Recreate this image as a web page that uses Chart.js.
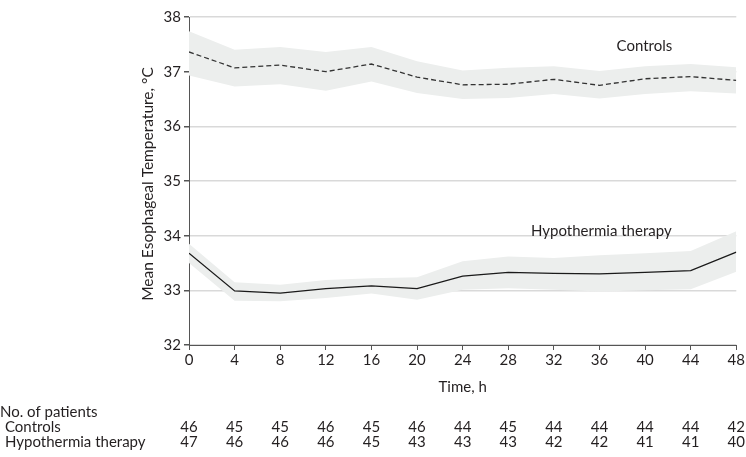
<!DOCTYPE html>
<html>
<head>
<meta charset="utf-8">
<script src="https://cdn.jsdelivr.net/npm/chart.js@4.4.1/dist/chart.umd.min.js"></script>
<style>
  html, body { margin: 0; padding: 0; background: #fff; }
  #wrap { width: 746px; height: 457px; position: relative; }
</style>
</head>
<body>
<div id="wrap"><canvas id="tempChart"></canvas></div>
<script>
// time points, h
var hours = [0, 4, 8, 12, 16, 20, 24, 28, 32, 36, 40, 44, 48];

// mean esophageal temperature, with 95% CI band
var controlsMean  = [37.36, 37.07, 37.12, 37.00, 37.14, 36.90, 36.76, 36.77, 36.86, 36.75, 36.87, 36.91, 36.84];
var controlsUpper = [37.74, 37.40, 37.45, 37.36, 37.45, 37.19, 37.02, 37.07, 37.10, 37.01, 37.10, 37.14, 37.08];
var controlsLower = [36.93, 36.73, 36.77, 36.65, 36.82, 36.61, 36.50, 36.52, 36.59, 36.51, 36.59, 36.64, 36.60];

var hypoMean  = [33.68, 32.99, 32.95, 33.03, 33.08, 33.03, 33.26, 33.33, 33.31, 33.30, 33.33, 33.36, 33.70];
var hypoUpper = [33.85, 33.15, 33.10, 33.19, 33.22, 33.24, 33.53, 33.62, 33.59, 33.64, 33.68, 33.72, 34.08];
var hypoLower = [33.50, 32.81, 32.80, 32.86, 32.94, 32.83, 33.01, 33.04, 33.01, 32.98, 33.00, 33.02, 33.34];

// number at risk
var controlsN = [46, 45, 45, 46, 45, 46, 44, 45, 44, 44, 44, 44, 42];
var hypoN     = [47, 46, 46, 46, 45, 43, 43, 43, 42, 42, 41, 41, 40];

var yTicks = [32, 33, 34, 35, 36, 37, 38];

var FONT = 'Lato, "Open Sans", sans-serif';
var FSIZE = 15;
var INK = '#231f20';

function pts(ys) {
  return hours.map(function (h, i) { return { x: h, y: ys[i] }; });
}

// extra texts: y title, x title, series labels, patient table
var annotations = {
  id: 'annotations',
  afterDraw: function (chart) {
    var ctx = chart.ctx;
    var xs = chart.scales.x;
    var ys = chart.scales.y;
    ctx.save();
    ctx.fillStyle = INK;
    ctx.font = FSIZE + 'px ' + FONT;
    ctx.textBaseline = 'middle';

    // axis titles
    ctx.save();
    ctx.translate(148, 184);
    ctx.rotate(-Math.PI / 2);
    ctx.textAlign = 'center';
    ctx.font = '15.5px ' + FONT;
    ctx.fillText('Mean Esophageal Temperature, °C', 0, 0);
    ctx.restore();

    ctx.textAlign = 'center';
    ctx.fillText('Time, h', (xs.left + xs.right) / 2, 387);

    // series labels
    ctx.textAlign = 'left';
    ctx.fillText('Controls', xs.getPixelForValue(37.5), ys.getPixelForValue(37.46));
    ctx.fillText('Hypothermia therapy', xs.getPixelForValue(30), ys.getPixelForValue(34.08));

    // patient table
    ctx.fillText('No. of patients', 0, 412);
    ctx.fillText('Controls', 5, 427);
    ctx.fillText('Hypothermia therapy', 5, 442);
    ctx.textAlign = 'center';
    hours.forEach(function (h, i) {
      var px = xs.getPixelForValue(h);
      ctx.fillText(String(controlsN[i]), px, 427);
      ctx.fillText(String(hypoN[i]), px, 442);
    });
    ctx.restore();
  }
};

var ctx = document.getElementById('tempChart').getContext('2d');
var tempChart = new Chart(ctx, {
  type: 'line',
  data: {
    datasets: [
      { data: pts(controlsUpper), order: 3, borderWidth: 0, pointRadius: 0, fill: '+1', backgroundColor: '#eceeed', tension: 0 },
      { data: pts(controlsLower), order: 3, borderWidth: 0, pointRadius: 0, fill: false, tension: 0 },
      { data: pts(hypoUpper), order: 3, borderWidth: 0, pointRadius: 0, fill: '+1', backgroundColor: '#eceeed', tension: 0 },
      { data: pts(hypoLower), order: 3, borderWidth: 0, pointRadius: 0, fill: false, tension: 0 },
      { data: pts(controlsMean), order: 0, borderColor: '#333333', borderWidth: 1.3, borderDash: [5, 3], pointRadius: 0, fill: false, tension: 0 },
      { data: pts(hypoMean), order: 0, borderColor: '#1a1a1a', borderWidth: 1.3, pointRadius: 0, fill: false, tension: 0 }
    ]
  },
  options: {
    responsive: true,
    maintainAspectRatio: false,
    animation: false,
    layout: { padding: { top: 17, right: 8, left: 0, bottom: 0 } },
    plugins: { legend: { display: false }, tooltip: { enabled: false } },
    scales: {
      x: {
        type: 'linear',
        min: 0,
        max: 48,
        afterFit: function (scale) { scale.height = 112; },
        afterBuildTicks: function (scale) {
          scale.ticks = hours.map(function (h) { return { value: h }; });
        },
        border: { color: '#555', width: 1 },
        grid: { drawOnChartArea: false, drawTicks: true, tickLength: 5, tickColor: '#555' },
        ticks: { color: INK, font: { family: FONT, size: FSIZE }, padding: 1, maxRotation: 0 }
      },
      y: {
        min: 32,
        max: 38,
        afterFit: function (scale) { scale.width = 189; },
        afterBuildTicks: function (scale) {
          scale.ticks = yTicks.map(function (v) { return { value: v }; });
        },
        border: { color: '#555', width: 1 },
        grid: { color: '#d9d9d9', lineWidth: 1.5, drawTicks: true, tickLength: 5, tickColor: '#555' },
        ticks: { color: INK, font: { family: FONT, size: FSIZE }, padding: 3 }
      }
    }
  },
  plugins: [annotations]
});
</script>
</body>
</html>
